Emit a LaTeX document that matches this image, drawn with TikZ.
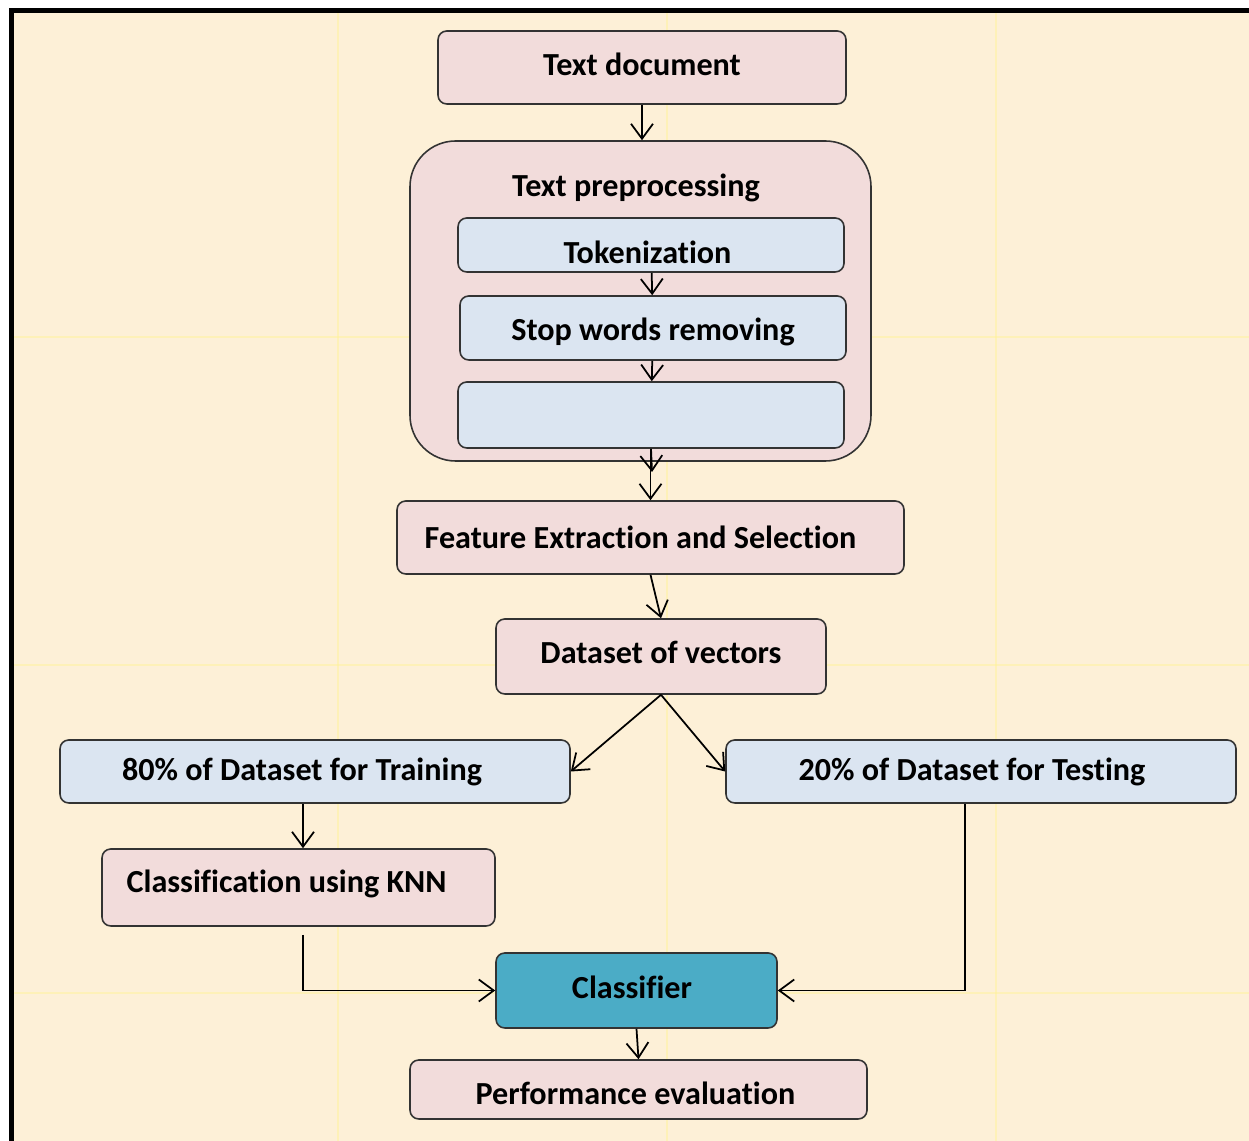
\documentclass[tikz,border=0pt]{standalone}
\usepackage{fontspec}
\setmainfont{Carlito}[Ligatures=NoCommon]
\usepackage{tikz}
\usetikzlibrary{calc}
\usetikzlibrary{arrows.meta}
\usetikzlibrary{positioning}
\newdimen\pxu \pxu=0.02cm
\definecolor{paper}{HTML}{FDF0D7}
\definecolor{seam}{HTML}{FFF29A}
\definecolor{pinkfill}{HTML}{F2DCDB}
\definecolor{bluefill}{HTML}{DBE5F1}
\definecolor{clsfill}{HTML}{4BACC6}
\definecolor{edge}{HTML}{333333}
\tikzset{sz/.style 2 args={minimum width=#1*0.02cm,minimum height=#2*0.02cm}}
\tikzset{pinkbox/.style={rectangle,rounded corners=5pt,draw=edge,fill=pinkfill,line width=0.9pt,inner sep=0pt}}
\tikzset{bluebox/.style={pinkbox,fill=bluefill}}
\tikzset{clsbox/.style={pinkbox,fill=clsfill}}
\tikzset{arr/.style={-{Straight Barb[length=8.5pt,width=12.5pt]},line width=1pt,black}}

\begin{document}
\begin{tikzpicture}[x=0.02cm,y=-0.02cm,node distance=0.2cm,
  every node/.style={font=\bfseries\fontsize{18.3}{22}\selectfont}]

\useasboundingbox (0,0) rectangle (1249,1141);
\fill[white] (0,0) rectangle (1249,1141);
\fill[paper] (11.5,10.5) rectangle (1249,1141);
\foreach \s in {338, 667, 996}
  {
 \draw[seam, line width=1.2pt, opacity=0.5] (\s, 13) -- (\s, 1141);
 }
\foreach \s in {337, 665, 993}
  {
 \draw[seam, line width=1.2pt, opacity=0.5] (14, \s) -- (1249, \s);
 }
\draw[line width=2.8pt] (11.5,1141) |- (1249,10.5);

\node[pinkbox, sz={408}{73}, text depth=3.4pt] (doc) at (642, 67.5) {Text document};

\node[pinkbox, rounded corners=26pt, sz={461}{320}] (prep) at (640.5, 301) {};
\node (preptitle) at (636, 188) {Text preprocessing};
\node[bluebox, sz={386}{54}, text height=21pt] (tok) at (651, 245) {\hspace*{-7\pxu}Tokenization};
\node[bluebox, sz={386}{64}, text height=17.5pt] (stop) at (653, 328) {Stop words removing};
\node[bluebox, sz={386}{66}] (empty) at (651, 415) {};
\coordinate (e1) at (652, 472);

\node[pinkbox, sz={507}{73}] (feat) at (650.5, 537.5) {\hspace*{-20\pxu}Feature Extraction and Selection};
\node[pinkbox, sz={330}{75}, text depth=4.5pt] (data) at (661, 656.5) {Dataset of vectors};

\node[bluebox, sz={510}{63}] (train) at (315, 771.5) {\hspace*{-26\pxu}80\% of Dataset for Training};
\node[bluebox, sz={510}{63}] (test) at (981, 771.5) {\hspace*{-18\pxu}20\% of Dataset for Testing};
\node[pinkbox, sz={393}{77}, text depth=7pt] (knn) at (298.5, 887.5) {\hspace*{-24\pxu}Classification using KNN};
\node[clsbox, sz={281}{75}, text depth=3.4pt] (cls) at (636.5, 990.5) {\hspace*{-9\pxu}Classifier};
\node[pinkbox, sz={457}{59}, text height=17.5pt] (perf) at (638.5, 1089.5) {\hspace*{-6\pxu}Performance evaluation};

\draw[arr] (doc.south) -- (doc.south |- prep.north);
\draw[arr] (tok) -- (stop);
\draw[arr] (stop) -- (empty);
\draw[arr] (empty.south) -- (e1);
\draw[arr] (empty.south -| feat.north) -- (feat.north);
\draw[arr] (feat.south) -- (data.north);
\draw[arr] (data.south) -- (train.east);
\draw[arr] (data.south) -- (test.west);
\draw[arr] ([xshift=-0.24cm]train.south) -- ([xshift=-0.24cm]train.south |- knn.north);
\draw[arr] ([xshift=0.09cm, yshift=-0.16cm]knn.south) |- (cls.west);
\draw[arr] ([xshift=-0.32cm]test.south) |- (cls.east);
\draw[arr] (cls.south) -- (perf.north);

\end{tikzpicture}
\end{document}
